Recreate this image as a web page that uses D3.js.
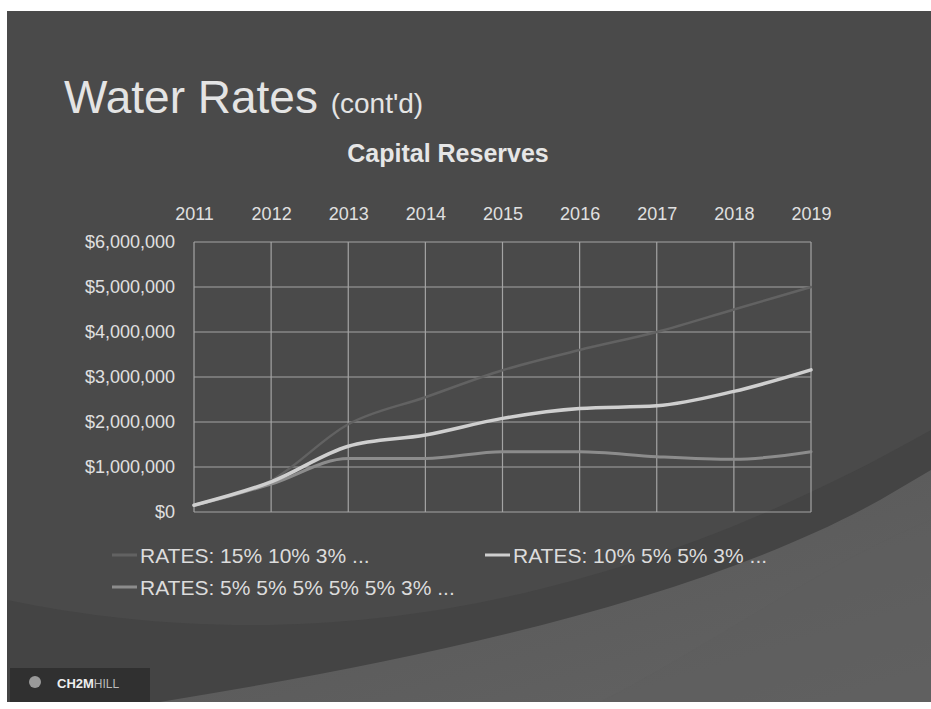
<!DOCTYPE html>
<html><head><meta charset="utf-8">
<script src="https://cdn.jsdelivr.net/npm/d3@7"></script>
<style>
html,body{margin:0;padding:0;background:#fff;}
svg{display:block;font-family:"Liberation Sans",Arial,sans-serif;}
</style></head>
<body>
<svg id="c" width="931" height="709"></svg>
<script>
const years = [2011,2012,2013,2014,2015,2016,2017,2018,2019];
const rates15 = [0.15,0.7,1.95,2.55,3.15,3.6,4.0,4.5,5.0];
const rates10 = [0.15,0.67,1.46,1.71,2.08,2.30,2.36,2.68,3.16];
const rates5  = [0.15,0.62,1.19,1.19,1.34,1.34,1.23,1.17,1.34];
const seriesNames = ["RATES: 15% 10% 3% ...","RATES: 10% 5% 5% 3% ...","RATES: 5% 5% 5% 5% 5% 3% ..."];
const yTicks = [0,1,2,3,4,5,6];

const svg = d3.select("#c");
const defs = svg.append("defs");
const g2 = defs.append("linearGradient").attr("id","sw").attr("x1",0).attr("y1",0).attr("x2",1).attr("y2",1);
g2.append("stop").attr("offset","0%").attr("stop-color","#555");
g2.append("stop").attr("offset","100%").attr("stop-color","#636363");

// slide background
svg.append("rect").attr("x",7).attr("y",11).attr("width",924).attr("height",691).attr("fill","#4a4a4a");
// darker band and lighter swoosh
svg.append("path").attr("d","M7,600 C250,650 560,640 931,430 L931,702 L7,702 Z").attr("fill","#444");
svg.append("path").attr("d","M160,702 C420,660 700,600 880,500 L931,470 L931,702 Z").attr("fill","url(#sw)");
svg.append("path").attr("d","M600,702 C720,640 830,560 931,520 L931,702 Z").attr("fill","#5e5e5e").attr("opacity",0.5);

// logo box
svg.append("rect").attr("x",10).attr("y",668).attr("width",140).attr("height",34).attr("fill","#303030");
svg.append("circle").attr("cx",35).attr("cy",682).attr("r",6).attr("fill","#9a9a9a");
svg.append("text").attr("x",57).attr("y",688).attr("fill","#eeeeee").attr("font-size",13).attr("font-weight","bold")
  .text("CH2M").append("tspan").attr("font-weight","normal").attr("fill","#bbb").attr("font-size",12).text("HILL");

// titles
const t = svg.append("text").attr("x",64).attr("y",113).attr("fill","#e4e4e4").attr("font-size",46);
t.append("tspan").text("Water Rates ");
t.append("tspan").attr("font-size",28).text("(cont'd)");
svg.append("text").attr("x",448).attr("y",162).attr("text-anchor","middle").attr("fill","#e6e6e6")
  .attr("font-size",25).attr("font-weight","bold").text("Capital Reserves");

// scales
const x = d3.scalePoint().domain(years).range([194,811]);
const y = d3.scaleLinear().domain([0,6]).range([512,242]);

// grid
const grid = svg.append("g").attr("stroke","#a4a4a4").attr("stroke-width",1.2);
grid.selectAll("line.h").data(yTicks).join("line").attr("class","h")
  .attr("x1",x(years[0])).attr("x2",x(years[years.length-1])).attr("y1",d=>y(d)).attr("y2",d=>y(d));
grid.selectAll("line.v").data(years).join("line").attr("class","v")
  .attr("x1",d=>x(d)).attr("x2",d=>x(d)).attr("y1",y(6)).attr("y2",y(0));

// axes
const xAxis = svg.append("g").attr("transform","translate(0,220)")
  .call(d3.axisTop(x).tickSize(0).tickPadding(0));
xAxis.select(".domain").remove();
xAxis.selectAll("text").attr("fill","#e0e0e0").attr("font-size",18).attr("font-family","Liberation Sans, Arial, sans-serif").attr("dy",0);

const fmt = v => v===0 ? "$0" : "$" + d3.format(",")(v*1000000);
const yAxis = svg.append("g").attr("transform","translate(175,0)")
  .call(d3.axisLeft(y).tickValues(yTicks).tickFormat(fmt).tickSize(0).tickPadding(0));
yAxis.select(".domain").remove();
yAxis.selectAll("text").attr("fill","#e0e0e0").attr("font-size",18).attr("font-family","Liberation Sans, Arial, sans-serif");

// lines
const line = d3.line().x((d,i)=>x(years[i])).y(d=>y(d)).curve(d3.curveMonotoneX);
const series = [
  {vals:rates15, color:"#626262", w:2.5},
  {vals:rates5,  color:"#8c8c8c", w:3},
  {vals:rates10, color:"#cfcfcf", w:3.5}
];
svg.append("g").selectAll("path").data(series).join("path")
  .attr("d",d=>line(d.vals)).attr("fill","none").attr("stroke",d=>d.color).attr("stroke-width",d=>d.w)
  .attr("stroke-linecap","round");

// legend
const legend = [
  {name:seriesNames[0], color:"#626262", x:140, y:563},
  {name:seriesNames[1], color:"#cfcfcf", x:513, y:563},
  {name:seriesNames[2], color:"#8c8c8c", x:140, y:595}
];
const lg = svg.append("g").selectAll("g").data(legend).join("g");
lg.append("line").attr("x1",d=>d.x-28).attr("x2",d=>d.x-3).attr("y1",d=>d.y-8).attr("y2",d=>d.y-8)
  .attr("stroke",d=>d.color).attr("stroke-width",3);
lg.append("text").attr("x",d=>d.x).attr("y",d=>d.y).attr("fill","#dcdcdc").attr("font-size",21).text(d=>d.name);
</script>
</body></html>
